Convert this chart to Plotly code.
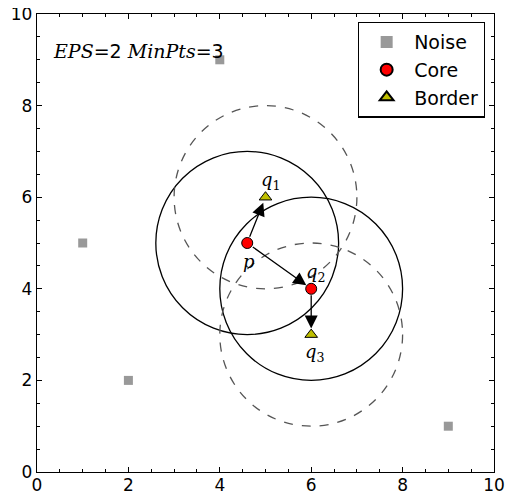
import plotly.graph_objects as go

# ---- data ----
EPS = 2
MIN_PTS = 3
noise_x = [1, 2, 4, 9]
noise_y = [5, 2, 9, 1]
core_x = [4.6, 6]
core_y = [5, 4]
core_names = ["p", "q2"]
border_x = [5, 6]
border_y = [6, 3]
border_names = ["q1", "q3"]
# arrows: (from, to) by name
links = [("p", "q1"), ("p", "q2"), ("q2", "q3")]
solid_circles = ["p", "q2"]
dashed_circles = ["q1", "q3"]
tick_vals = [0, 2, 4, 6, 8, 10]

pos = {}
for n, x, y in zip(core_names, core_x, core_y):
    pos[n] = (x, y)
for n, x, y in zip(border_names, border_x, border_y):
    pos[n] = (x, y)

fig = go.Figure()
fig.add_trace(go.Scatter(x=noise_x, y=noise_y, mode="markers", name="Noise",
                         marker=dict(symbol="square", size=9, color="#999999",
                                     line=dict(width=0))))
fig.add_trace(go.Scatter(x=core_x, y=core_y, mode="markers", name="Core",
                         marker=dict(symbol="circle", size=11, color="#ff0000",
                                     line=dict(width=1, color="black"))))
fig.add_trace(go.Scatter(x=border_x, y=border_y, mode="markers", name="Border",
                         marker=dict(symbol="triangle-up", size=11, color="#bfbf00",
                                     line=dict(width=1, color="black"))))

shapes = []
for n in solid_circles:
    cx, cy = pos[n]
    shapes.append(dict(type="circle", xref="x", yref="y", x0=cx - EPS, x1=cx + EPS,
                       y0=cy - EPS, y1=cy + EPS, line=dict(color="black", width=1.3),
                       layer="below"))
for n in dashed_circles:
    cx, cy = pos[n]
    shapes.append(dict(type="circle", xref="x", yref="y", x0=cx - EPS, x1=cx + EPS,
                       y0=cy - EPS, y1=cy + EPS,
                       line=dict(color="#555555", width=1.3, dash="dash"),
                       layer="below"))

annotations = []
for a, b in links:
    x0, y0 = pos[a]
    x1, y1 = pos[b]
    annotations.append(dict(x=x1, y=y1, ax=x0, ay=y0, xref="x", yref="y",
                            axref="x", ayref="y", text="", showarrow=True,
                            arrowhead=2, arrowsize=2, arrowwidth=1.3,
                            arrowcolor="black", standoff=6, startstandoff=5))

serif = "DejaVu Serif"
label_offsets = {"p": (2, -18), "q1": (5, 16), "q2": (5, 16), "q3": (4, -18)}
label_text = {"p": "<i>p</i>", "q1": "<i>q</i><sub>1</sub>",
              "q2": "<i>q</i><sub>2</sub>", "q3": "<i>q</i><sub>3</sub>"}
for n, (dx, dy) in label_offsets.items():
    x, y = pos[n]
    annotations.append(dict(x=x, y=y, xref="x", yref="y", text=label_text[n],
                            showarrow=False, xshift=dx, yshift=dy,
                            font=dict(family=serif, size=18, color="black")))

annotations.append(dict(x=0.03, y=0.92, xref="paper", yref="paper", xanchor="left",
                        yanchor="middle", showarrow=False,
                        text=f"<span style='font-family:{serif}'><i>EPS</i></span>={EPS} "
                             f"<span style='font-family:{serif}'><i>MinPts</i></span>={MIN_PTS}",
                        font=dict(family="DejaVu Sans", size=19, color="black")))

axis_common = dict(range=[0, 10], tickvals=tick_vals, showgrid=False, zeroline=False,
                   showline=True, linecolor="black", linewidth=1.3, mirror="allticks",
                   ticks="inside", ticklen=5, tickwidth=1, tickcolor="black",
                   ticklabeloverflow="allow",
                   minor=dict(dtick=0.5, ticks="inside", ticklen=3, tickcolor="black"),
                   tickfont=dict(family="DejaVu Sans", size=17, color="black"))

fig.update_layout(
    width=506, height=485,
    margin=dict(l=29, r=20, t=6, b=21, autoexpand=False),
    plot_bgcolor="white", paper_bgcolor="white",
    xaxis=dict(**axis_common, ticklabelstandoff=-3),
    yaxis=dict(**axis_common),
    shapes=shapes, annotations=annotations,
    legend=dict(x=0.98, y=0.983, xanchor="right", yanchor="top",
                bordercolor="black", borderwidth=1.3, bgcolor="white",
                font=dict(family="DejaVu Sans", size=19, color="black"),
                itemsizing="constant", itemwidth=45, tracegroupgap=0),
    showlegend=True,
)

fig.write_html("out.html")
